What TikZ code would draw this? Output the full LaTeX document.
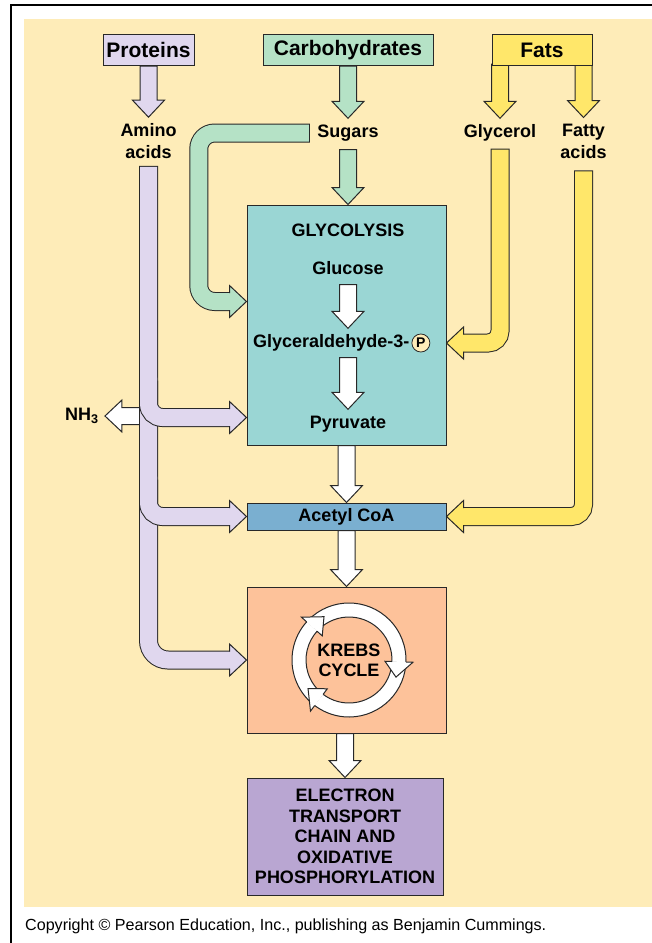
\documentclass[tikz,border=0pt]{standalone}
\usepackage{fontspec}
\setmainfont{Liberation Sans}
\usetikzlibrary{calc,positioning}

\definecolor{bgyellow}{RGB}{254,236,184}
\definecolor{protcol}{RGB}{224,215,238}
\definecolor{carbcol}{RGB}{181,226,198}
\definecolor{fatcol}{RGB}{255,231,106}
\definecolor{glycol}{RGB}{154,214,212}
\definecolor{acetcol}{RGB}{122,175,208}
\definecolor{krebscol}{RGB}{253,194,154}
\definecolor{etccol}{RGB}{185,166,210}
\definecolor{edgecol}{RGB}{40,40,40}

% block arrow pointing down, from #1 to tip #2
\newcommand{\blockdown}[3]{%
  \filldraw[edge, fill=#3] let \p1=#1, \p2=#2 in
    (\x2-8.5pt,\y1) -- (\x2-8.5pt,\y2+17pt) -- (\x2-16pt,\y2+17pt) -- (\p2)
    -- (\x2+16pt,\y2+17pt) -- (\x2+8.5pt,\y2+17pt) -- (\x2+8.5pt,\y1) -- cycle;}
% block arrow pointing left, from #1 to tip #2
\newcommand{\blockleft}[3]{%
  \filldraw[edge, fill=#3] let \p1=#1, \p2=#2 in
    (\x1,\y2-8.5pt) -- (\x2+17pt,\y2-8.5pt) -- (\x2+17pt,\y2-16pt) -- (\p2)
    -- (\x2+17pt,\y2+16pt) -- (\x2+17pt,\y2+8.5pt) -- (\x1,\y2+8.5pt) -- cycle;}
% heads for the bent bands
\newcommand{\headright}[2]{%
  \filldraw[edge, fill=#2] let \p1=#1 in
    (\x1-17pt,\y1+8.5pt) -- (\x1-17pt,\y1+16pt) -- (\p1) -- (\x1-17pt,\y1-16pt) -- (\x1-17pt,\y1-8.5pt);}
\newcommand{\headleft}[2]{%
  \filldraw[edge, fill=#2] let \p1=#1 in
    (\x1+17pt,\y1+8.5pt) -- (\x1+17pt,\y1+16pt) -- (\p1) -- (\x1+17pt,\y1-16pt) -- (\x1+17pt,\y1-8.5pt);}
% bent band: #1 radius, #2 colour, #3 outline options, #4 path
\newcommand{\bentband}[4]{%
  \draw[line width=19pt, draw=edgecol, rounded corners=#1, #3] #4;
  \draw[line width=17pt, draw=#2, rounded corners=#1] #4;}

\begin{document}
\begin{tikzpicture}[x=1pt, y=-1pt,
    edge/.style={draw=edgecol, line width=1pt},
    box/.style={edge, inner sep=0pt},
    title/.style={box, minimum height=31pt, font=\fontsize{21}{24}\selectfont\bfseries},
    lbl/.style={font=\fontsize{18}{22}\selectfont\bfseries, inner xsep=2pt, inner ysep=6pt, text height=13pt, text depth=4pt},
    lbltwo/.style={font=\fontsize{18}{22}\selectfont\bfseries, inner xsep=2pt, inner ysep=6pt, align=center},
  ]
  \useasboundingbox (0,0) rectangle (652,943);
  \fill[bgyellow] (24,19) rectangle (652,907);
  \draw[line width=2pt] (11,943) -- (11,5) -- (652,5);

  % sources
  \node[title, fill=protcol, minimum width=91pt] (prot) at (148.5,50) {Proteins};
  \node[title, fill=carbcol, minimum width=170pt] (carb) at (348,50) {Carbohydrates};
  \node[lbltwo] (amino) at (148.5,141) {Amino\\acids};
  \node[lbl] (sugars) at (348,133) {Sugars};
  \node[lbl] (glycerol) at (500,133) {Glycerol};
  \node[lbltwo] (fatty) at (583.5,141) {Fatty\\acids};

  % stages
  \node[box, fill=glycol, minimum width=199pt, minimum height=240pt] (glyc) at (346.5,325) {};
  \node[lbl] (gtitle) at (348,232) {GLYCOLYSIS};
  \node[lbl] (glucose) at (348,270) {Glucose};
  \node[lbl, anchor=west] (g3p) at (251,343) {Glyceraldehyde-3-};
  \node[circle, edge, line width=0.8pt, fill=bgyellow, inner sep=0pt, minimum size=18pt,
    font=\fontsize{14}{14}\selectfont\bfseries, right=0pt of g3p] (pcirc) {P};
  \node[lbl] (pyruvate) at (348,424) {Pyruvate};
  \node[box, fill=acetcol, minimum width=199pt, minimum height=27pt,
    font=\fontsize{18}{22}\selectfont\bfseries] (acetyl) at (346.5,516.5) {Acetyl CoA};
  \node[box, fill=krebscol, minimum width=199pt, minimum height=146pt] (krebs) at (346.5,660) {};
  \node[lbltwo, font=\fontsize{18}{20}\selectfont\bfseries] (krebslbl) at (349,660) {KREBS\\CYCLE};
  \node[box, fill=etccol, minimum width=196pt, minimum height=117pt, align=center,
    font=\fontsize{18}{20.6}\selectfont\bfseries] (etc) at (345,836.5)
    {ELECTRON\\TRANSPORT\\CHAIN AND\\OXIDATIVE\\PHOSPHORYLATION};
  \node[lbl] (nh3) at (82,416) {NH\textsubscript{3}};

  % straight arrows
  \blockdown{(prot.south)}{(amino.north)}{protcol}
  \blockdown{(carb.south)}{(sugars.north)}{carbcol}
  \blockdown{([yshift=-2pt]sugars.south)}{(sugars |- glyc.north)}{carbcol}
  \blockdown{(glucose.south)}{(glucose |- g3p.north)}{white}
  \blockdown{(g3p.south -| glucose)}{(glucose |- pyruvate.north)}{white}
  \blockdown{(glyc.south)}{(acetyl.north)}{white}
  \blockdown{(acetyl.south)}{(krebs.north)}{white}
  \blockdown{(krebs.south)}{(etc.north)}{white}

  % fats split into two
  \blockdown{(glycerol |- 0,64)}{(glycerol.north)}{fatcol}
  \blockdown{(fatty |- 0,64)}{(fatty.north)}{fatcol}
  \node[title, fill=fatcol, minimum width=100pt] (fats) at (542,50) {Fats};

  % sugars into glycolysis
  \bentband{16pt}{carbcol}{shorten <=-1pt}
    {([xshift=-6.5pt]sugars.west) -- ++(-110,0) |- ($(glyc.north west)+(-16,97)$)}
  \headright{($(glyc.north west)+(0,97)$)}{carbcol}

  % glycerol and fatty acids
  \bentband{12pt}{fatcol}{shorten <=-1pt}
    {([yshift=-2pt]glycerol.south) |- ($(glyc.east |- g3p)+(16,0)$)}
  \headleft{(glyc.east |- g3p)}{fatcol}
  \bentband{12pt}{fatcol}{shorten <=-1pt}
    {([yshift=-7pt]fatty.south) |- ($(acetyl.east)+(16,0)$)}
  \headleft{(acetyl.east)}{fatcol}

  % amino acids
  \coordinate (aminoin) at ($(glyc.south west)+(0,-28)$);
  \blockleft{(amino |- nh3)}{([xshift=4pt]nh3.east)}{white}
  \bentband{19.5pt}{protcol}{shorten <=-1pt}
    {([yshift=-2pt]amino.south) |- ($(krebs.west)+(-16,0)$)}
  \bentband{14pt}{protcol}{shorten >=3pt}
    {($(aminoin)+(-16,0)$) -| ($(amino |- aminoin)+(0,-40)$)}
  \bentband{14pt}{protcol}{shorten >=3pt}
    {($(acetyl.west)+(-16,0)$) -| ($(amino |- acetyl.west)+(0,-40)$)}
  \headright{(aminoin)}{protcol}
  \headright{(acetyl.west)}{protcol}
  \headright{(krebs.west)}{protcol}

  % krebs ring
  \begin{scope}[shift={(krebslbl.center)}]
    \foreach \s/\e in {130/222, 225/362, 5/127}
      \filldraw[edge, fill=white] (\s:57) arc[start angle=\s, end angle=\e+1, radius=57]
        -- (\e+1:43) arc[start angle=\e+1, end angle=\s, radius=43] -- cycle;
    \foreach \e in {222, 362, 127}
      \filldraw[edge, fill=white] (\e:43) -- (\e:36) -- (\e+18:50) -- (\e:64) -- (\e:57);
  \end{scope}

  \node[anchor=base west, inner sep=0pt, font=\fontsize{16.1}{18}\selectfont] (copy) at (25,930)
    {Copyright \textcopyright{} Pearson Education, Inc., publishing as Benjamin Cummings.};
\end{tikzpicture}
\end{document}
